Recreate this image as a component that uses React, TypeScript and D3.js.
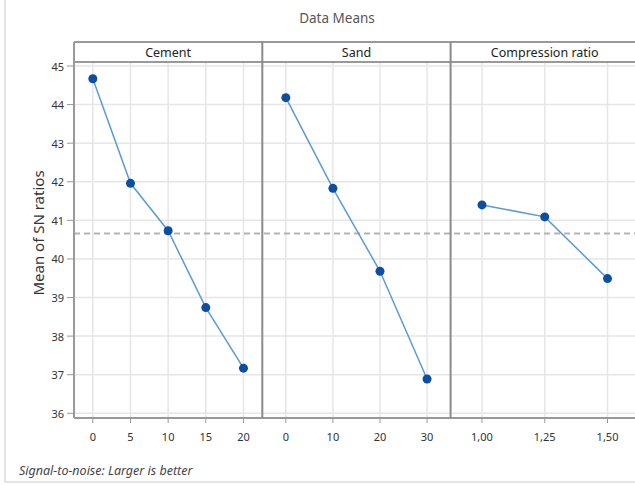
import React from "react";
import * as d3 from "d3";

const title = "Data Means";
const yLabel = "Mean of SN ratios";
const footer = "Signal-to-noise: Larger is better";

const factorNames = ["Cement", "Sand", "Compression ratio"];
const cementLevels = ["0", "5", "10", "15", "20"];
const cementMeans = [44.67, 41.96, 40.73, 38.74, 37.17];
const sandLevels = ["0", "10", "20", "30"];
const sandMeans = [44.18, 41.83, 39.68, 36.89];
const ratioLevels = ["1,00", "1,25", "1,50"];
const ratioMeans = [41.4, 41.09, 39.49];
const overallMean = 40.66;
const yTicks = [36, 37, 38, 39, 40, 41, 42, 43, 44, 45];

const W = 635;
const H = 485;
const plotLeft = 74;
const panelW = 188.3;
const headerTop = 42;
const plotTop = 62;
const plotBottom = 418;
const font = "'Noto Sans', 'Open Sans', sans-serif";

export default function App() {
  const y = d3.scaleLinear().domain([36, 45]).range([413.3, 66]);
  const panels = [
    { name: factorNames[0], levels: cementLevels, values: cementMeans },
    { name: factorNames[1], levels: sandLevels, values: sandMeans },
    { name: factorNames[2], levels: ratioLevels, values: ratioMeans },
  ].map((p, i) => {
    const x0 = plotLeft + i * panelW;
    const x = d3.scalePoint<string>().domain(p.levels).range([x0, x0 + panelW]).padding(0.5);
    return { ...p, x0, x };
  });
  const rightEdge = W + 10;

  return (
    <svg width={W} height={H} style={{ position: "absolute", left: 0, top: 0, background: "#fff" }}>
      {/* outer frame */}
      <line x1={5} x2={5} y1={0} y2={482} stroke="#dcdcdc" strokeWidth={1.5} />
      <line x1={5} x2={W} y1={482} y2={482} stroke="#dcdcdc" strokeWidth={1.5} />

      <text x={337} y={18} textAnchor="middle" dominantBaseline="central" fontFamily={font} fontSize={13.5} fill="#555">
        {title}
      </text>

      {/* horizontal grid */}
      {yTicks.map((t) => (
        <line key={"hg" + t} x1={plotLeft} x2={rightEdge} y1={y(t)} y2={y(t)} stroke="#e6e6e6" strokeWidth={1.5} />
      ))}
      {/* vertical grid */}
      {panels.map((p) =>
        p.levels.map((l) => (
          <line key={"vg" + p.name + l} x1={p.x(l)!} x2={p.x(l)!} y1={plotTop} y2={plotBottom} stroke="#e6e6e6" strokeWidth={1.5} />
        ))
      )}

      {/* mean line */}
      <line x1={plotLeft} x2={rightEdge} y1={y(overallMean)} y2={y(overallMean)} stroke="#b4b4b4" strokeWidth={2} strokeDasharray="6,4" />

      {/* header strip */}
      <line x1={plotLeft} x2={rightEdge} y1={headerTop} y2={headerTop} stroke="#999" strokeWidth={2} />
      <line x1={plotLeft} x2={rightEdge} y1={plotTop} y2={plotTop} stroke="#999" strokeWidth={2} />
      {panels.map((p) => (
        <text key={"hd" + p.name} x={p.x0 + panelW / 2} y={52.5} textAnchor="middle" dominantBaseline="central" fontFamily={font} fontSize={12.5} fill="#222">
          {p.name}
        </text>
      ))}

      {/* axes */}
      <line x1={plotLeft} x2={plotLeft} y1={headerTop} y2={plotBottom} stroke="#999" strokeWidth={2} />
      <line x1={plotLeft} x2={rightEdge} y1={plotBottom} y2={plotBottom} stroke="#999" strokeWidth={2} />
      {panels.slice(1).map((p) => (
        <line key={"dv" + p.name} x1={p.x0} x2={p.x0} y1={headerTop} y2={plotBottom} stroke="#8a8a8a" strokeWidth={2} />
      ))}

      {/* y ticks */}
      {yTicks.map((t) => (
        <g key={"yt" + t}>
          <line x1={67} x2={plotLeft} y1={y(t)} y2={y(t)} stroke="#999" strokeWidth={1} />
          <text x={64} y={y(t)} textAnchor="end" dominantBaseline="central" fontFamily={font} fontSize={11} fill="#333">
            {t}
          </text>
        </g>
      ))}
      <text
        transform={`translate(38,233) rotate(-90)`}
        textAnchor="middle"
        dominantBaseline="central"
        fontFamily={font}
        fontSize={15}
        fill="#333"
      >
        {yLabel}
      </text>

      {/* x ticks */}
      {panels.map((p) =>
        p.levels.map((l) => (
          <g key={"xt" + p.name + l}>
            <line x1={p.x(l)!} x2={p.x(l)!} y1={plotBottom} y2={plotBottom + 5} stroke="#999" strokeWidth={1} />
            <text x={p.x(l)!} y={436} textAnchor="middle" dominantBaseline="central" fontFamily={font} fontSize={11} fill="#333">
              {l}
            </text>
          </g>
        ))
      )}

      {/* series */}
      {panels.map((p) => {
        const line = d3
          .line<number>()
          .x((_, i) => p.x(p.levels[i])!)
          .y((v) => y(v));
        return (
          <g key={"s" + p.name}>
            <path d={line(p.values) || ""} fill="none" stroke="#5b9bd5" strokeWidth={1.5} />
            {p.values.map((v, i) => (
              <circle key={i} cx={p.x(p.levels[i])!} cy={y(v)} r={4.5} fill="#0b4ea2" />
            ))}
          </g>
        );
      })}

      <text x={19} y={470} dominantBaseline="central" fontFamily={font} fontStyle="italic" fontSize={12.5} fill="#444">
        {footer}
      </text>
    </svg>
  );
}
